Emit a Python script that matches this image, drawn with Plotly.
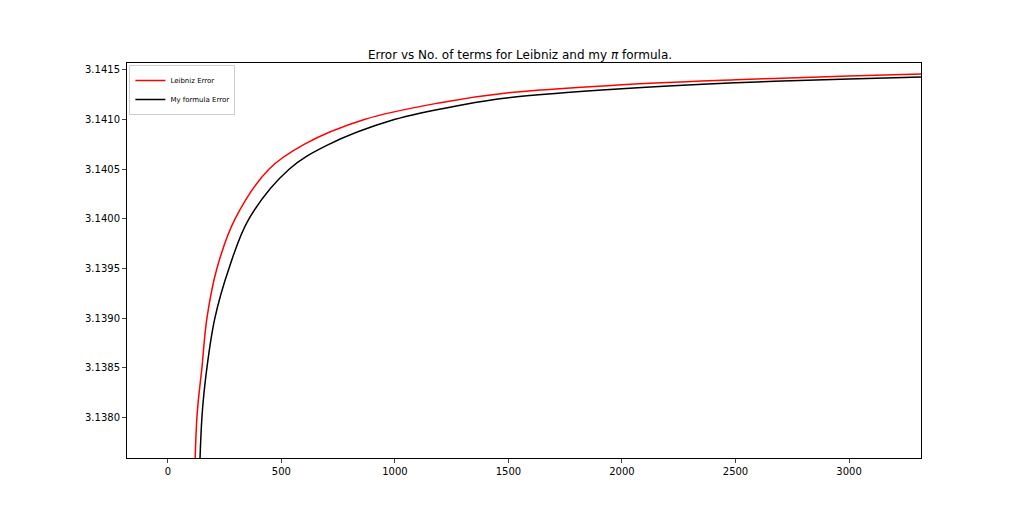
import plotly.graph_objects as go

# values
terms_leibniz = [110, 128, 150, 172, 216, 296, 445, 600, 865, 1200, 1500, 2000, 2500, 3000, 3317]
leibniz = [3.1365, 3.1380, 3.1385, 3.1390, 3.1395, 3.1400, 3.1405, 3.14075, 3.1410, 3.14117, 3.14127, 3.14135, 3.1414, 3.14144, 3.14146]

terms_mine = [130, 150, 172, 207, 269, 357, 534, 700, 997, 1300, 1500, 2000, 2500, 3000, 3317]
mine = [3.1366, 3.1380, 3.1385, 3.1390, 3.1395, 3.1400, 3.1405, 3.14074, 3.1410, 3.14115, 3.14122, 3.14131, 3.14137, 3.14141, 3.14143]

fig = go.Figure()
fig.add_trace(go.Scatter(x=terms_leibniz, y=leibniz, mode="lines", name="Leibniz Error",
                         line=dict(color="red", width=1.5, shape="spline", smoothing=1.0)))
fig.add_trace(go.Scatter(x=terms_mine, y=mine, mode="lines", name="My formula Error",
                         line=dict(color="black", width=1.5, shape="spline", smoothing=1.0)))

axis = dict(showgrid=False, zeroline=False, showline=True, linecolor="black", mirror=True,
            ticks="outside", ticklen=4, tickfont=dict(size=10, color="black"))
fig.update_layout(
    width=1024, height=514, plot_bgcolor="white", paper_bgcolor="white",
    font=dict(family="DejaVu Sans", color="black"),
    title=dict(text="Error vs No. of terms for Leibniz and my <i>π</i> formula.", x=0.5, y=0.9,
               xanchor="center", yanchor="bottom", font=dict(size=12)),
    margin=dict(l=119, r=111, t=55, b=64),
    legend=dict(x=0.003, y=0.995, xanchor="left", yanchor="top", font=dict(size=7),
                bordercolor="#cccccc", borderwidth=1, bgcolor="white", tracegroupgap=0),
    xaxis=dict(range=[-180, 3317], tickvals=[0, 500, 1000, 1500, 2000, 2500, 3000], **axis),
    yaxis=dict(range=[3.13759, 3.14157], tickformat=".4f", dtick=0.0005, **axis),
)
fig.write_html("out.html")
